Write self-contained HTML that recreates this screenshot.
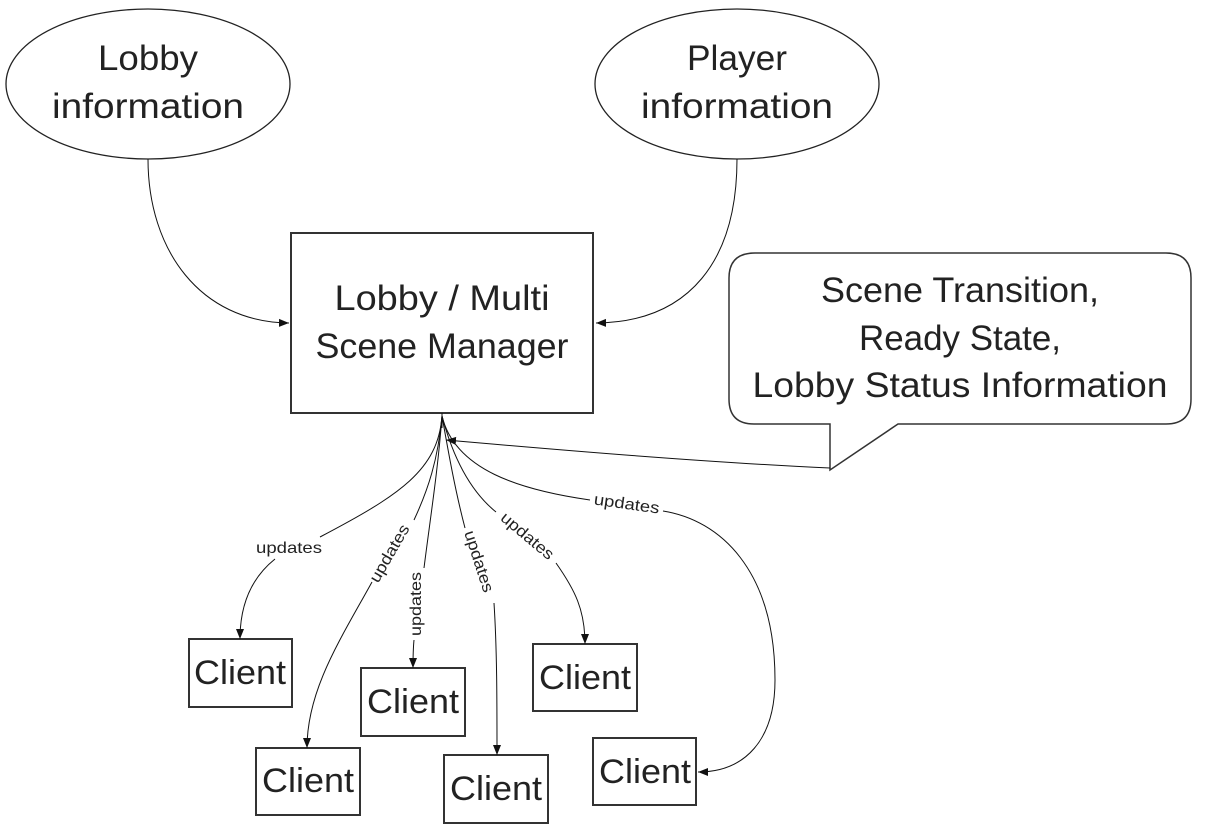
<!DOCTYPE html>
<html><head><meta charset="utf-8"><style>
html,body{margin:0;padding:0;background:#fff;}
svg{display:block;}
text{font-family:"Liberation Sans",sans-serif;fill:#222;}
</style></head><body>
<svg width="1205" height="829" viewBox="0 0 1205 829" xmlns="http://www.w3.org/2000/svg">
<defs>
<marker id="a" viewBox="0 0 10 10" refX="10" refY="5" markerWidth="10" markerHeight="10" markerUnits="userSpaceOnUse" orient="auto">
<path d="M0,1 L10,5 L0,9 Z" fill="#111"/>
</marker>
</defs>
<g fill="none" stroke="#222" stroke-width="1.3">
<ellipse cx="148" cy="84" rx="142" ry="75"/>
<ellipse cx="737" cy="84" rx="142" ry="75"/>
</g>
<g fill="none" stroke="#333" stroke-width="2">
<rect x="291" y="233" width="302" height="180"/>
<rect x="189" y="639" width="103" height="68"/>
<rect x="256" y="748" width="104" height="67"/>
<rect x="361" y="668" width="104" height="68"/>
<rect x="444" y="755" width="104" height="68"/>
<rect x="533" y="644" width="104" height="67"/>
<rect x="593" y="738" width="103" height="67"/>
<path d="M755,253 H1166 Q1191,253 1191,278 V399 Q1191,424 1166,424 H898 L830,470 V424 H754 Q729,424 729,399 V278 Q729,253 755,253 Z" stroke-width="1.5"/>
</g>
<g fill="none" stroke="#111" stroke-width="1">
<path d="M148,159 C148,250 200,322 289,323" marker-end="url(#a)"/>
<path d="M737,159 C737,260 690,322 596,323" marker-end="url(#a)"/>
<path d="M830,468 C700,462 560,450 446,440" marker-end="url(#a)"/>
<path d="M442,413 V428"/>
<path d="M442,416 C438,470 400,495 320,537"/>
<path d="M275,559 C255,575 240,600 240,639" marker-end="url(#a)"/>
<path d="M442,416 C438,460 428,490 414,520"/>
<path d="M372,582 C340,640 307,690 307,748" marker-end="url(#a)"/>
<path d="M442,416 C438,470 430,520 424,568"/>
<path d="M414,640 C413,650 413,660 413,668" marker-end="url(#a)"/>
<path d="M442,416 C448,450 455,490 465,528"/>
<path d="M494,603 C497,650 497,700 497,755" marker-end="url(#a)"/>
<path d="M442,416 C455,465 475,495 496,512"/>
<path d="M556,563 C575,590 585,610 585,644" marker-end="url(#a)"/>
<path d="M442,416 C455,470 520,490 590,500"/>
<path d="M663,511 C720,520 775,570 775,680 C775,740 745,772 698,772" marker-end="url(#a)"/>
</g>
<g font-size="35" text-anchor="middle" lengthAdjust="spacingAndGlyphs">
<text x="148" y="70" textLength="100" lengthAdjust="spacingAndGlyphs">Lobby</text>
<text x="148" y="118" textLength="192" lengthAdjust="spacingAndGlyphs">information</text>
<text x="737" y="70" textLength="100" lengthAdjust="spacingAndGlyphs">Player</text>
<text x="737" y="118" textLength="192" lengthAdjust="spacingAndGlyphs">information</text>
<text x="442" y="310" textLength="215" lengthAdjust="spacingAndGlyphs">Lobby / Multi</text>
<text x="442" y="358" textLength="253" lengthAdjust="spacingAndGlyphs">Scene Manager</text>
<text x="960" y="302" textLength="278" lengthAdjust="spacingAndGlyphs">Scene Transition,</text>
<text x="960" y="350" textLength="202" lengthAdjust="spacingAndGlyphs">Ready State,</text>
<text x="960" y="397" textLength="415" lengthAdjust="spacingAndGlyphs">Lobby Status Information</text>
</g>
<g font-size="34" text-anchor="middle">
<text x="240" y="684" textLength="92" lengthAdjust="spacingAndGlyphs">Client</text>
<text x="308" y="792" textLength="92" lengthAdjust="spacingAndGlyphs">Client</text>
<text x="413" y="713" textLength="92" lengthAdjust="spacingAndGlyphs">Client</text>
<text x="496" y="800" textLength="92" lengthAdjust="spacingAndGlyphs">Client</text>
<text x="585" y="689" textLength="92" lengthAdjust="spacingAndGlyphs">Client</text>
<text x="645" y="783" textLength="92" lengthAdjust="spacingAndGlyphs">Client</text>
</g>
<g font-size="16" text-anchor="middle">
<text x="289" y="553" textLength="66" lengthAdjust="spacingAndGlyphs">updates</text>
<text transform="translate(394,556) rotate(-60)" textLength="64" lengthAdjust="spacingAndGlyphs">updates</text>
<text transform="translate(421,604) rotate(-90)" textLength="64" lengthAdjust="spacingAndGlyphs">updates</text>
<text transform="translate(474,563) rotate(72)" textLength="64" lengthAdjust="spacingAndGlyphs">updates</text>
<text transform="translate(524,540) rotate(40)" textLength="64" lengthAdjust="spacingAndGlyphs">updates</text>
<text transform="translate(626,509) rotate(8)" textLength="66" lengthAdjust="spacingAndGlyphs">updates</text>
</g>
</svg>
</body></html>
